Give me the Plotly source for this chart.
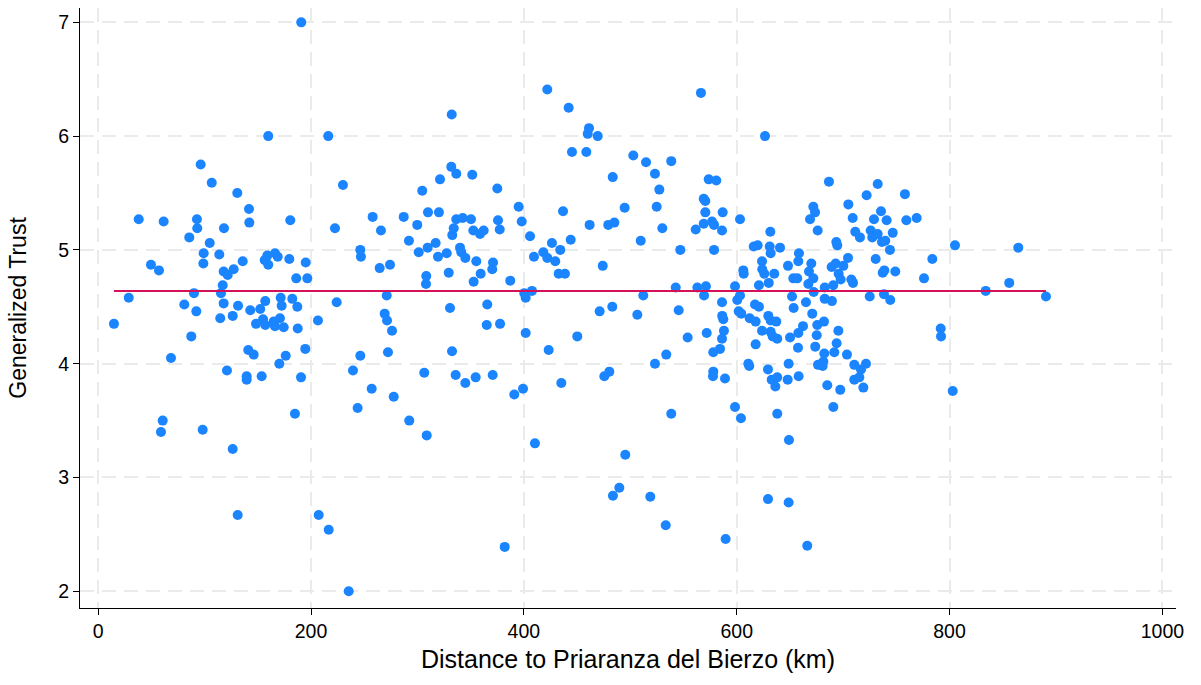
import plotly.graph_objects as go

# Distance to Priaranza del Bierzo (km)
distance_km = [
    190.8, 159.8, 216.2, 96.3, 106.7, 130.7, 141.7, 230.0,
    38.1, 61.5, 92.8, 93.1, 118.2, 142.0, 180.5, 222.5, 85.6, 104.8, 99.1, 98.8,
    113.8, 49.6, 57.1, 117.9, 121.7, 127.3, 135.8, 117.0, 115.4, 90.0, 28.7, 14.8,
    80.9, 92.2, 117.9, 131.4, 114.7, 126.4, 142.9, 152.3, 157.0, 156.5, 158.9, 166.1,
    168.7, 159.8, 179.6, 195.0, 186.1, 196.5, 171.5, 172.4, 182.4, 187.1, 224.1, 154.9,
    148.3, 157.0, 164.9, 170.8, 166.1, 174.3, 187.5, 206.5, 87.5, 68.4, 141.0, 146.1,
    170.2, 176.2, 194.6, 121.0, 139.5, 139.5, 153.6, 190.6, 184.9,
    60.6, 59.0, 98.2, 126.4, 131.1, 207.2, 216.6, 235.4,
    422.0, 442.1, 332.2, 445.2, 331.8, 336.5, 351.5, 321.2, 304.5, 375.0, 395.1, 436.8,
    309.9, 320.2,
    257.9, 287.1, 299.8, 265.7, 292.0, 301.2, 309.6, 317.1, 319.3, 327.5, 336.5, 342.5,
    350.3, 334.1, 332.7, 340.0, 341.2, 345.0, 352.5, 358.8, 362.2, 375.7, 377.3, 398.0,
    405.8, 246.3, 246.9, 264.5, 274.2, 308.3, 308.0, 329.4, 355.3, 359.4, 352.8, 371.0,
    370.3, 387.2, 409.5, 418.3, 422.0, 426.4, 429.5, 434.2, 444.0, 432.7, 438.6, 271.1,
    269.2, 271.4, 276.1, 330.6, 365.6, 365.1, 377.6, 400.4, 401.7, 407.6, 401.7, 450.2,
    246.3, 272.3, 332.5, 423.3, 239.4, 306.4, 335.9, 345.0, 354.7, 370.7, 257.0, 277.7,
    243.8, 391.0, 399.2, 435.2,
    292.3, 308.7, 410.4, 382.0,
    566.4, 626.6, 461.2, 460.0, 469.4, 458.7, 502.8, 514.8, 538.5, 523.2, 483.5, 527.3,
    573.7, 580.8, 569.0, 570.5, 494.7, 524.8, 570.5, 586.8, 603.1, 672.0, 673.6,
    461.8, 479.3, 485.0, 530.1, 561.5, 569.0, 576.8, 578.7, 586.2, 631.6, 668.9, 676.1,
    509.8, 547.0, 578.7, 474.1, 616.0, 619.7, 631.0, 631.9, 640.7, 658.5, 657.9, 623.8,
    624.0, 625.9, 635.3, 606.2, 606.6, 648.2, 670.1, 667.9, 653.2, 656.9, 672.0, 667.3,
    672.3, 630.1, 620.9, 598.4, 603.1, 600.5, 542.7, 563.0, 571.1, 569.3, 512.2, 652.0,
    653.5, 665.1, 671.0, 471.2, 483.1, 506.6, 545.5, 586.2, 586.4, 587.4, 601.9, 604.3,
    617.2, 620.9, 612.2, 617.8, 629.7, 631.9, 637.2, 662.3, 675.7, 553.9, 571.8, 588.0,
    586.2, 623.8, 631.9, 633.8, 638.1, 650.1, 657.9, 675.2, 617.8, 657.6, 673.8, 578.0,
    584.3, 533.8, 523.2, 610.9, 611.8, 648.8, 676.4, 475.6, 480.3, 578.0, 577.7, 589.0,
    629.4, 632.9, 638.1, 636.3, 647.9, 658.2, 598.4, 538.5, 638.1,
    604.0, 649.1, 495.3, 489.7, 483.7, 518.8, 533.3, 589.6, 629.4, 648.8, 666.3,
    686.7, 732.5, 722.1, 758.1, 704.9, 735.6,
    709.0, 729.0, 740.9, 759.4, 769.1, 711.4, 715.8, 725.9, 727.4, 732.5, 736.5, 739.6,
    746.6, 744.0, 693.6, 694.5, 704.6, 693.0, 689.2, 700.2, 695.8, 697.7, 690.7, 682.7,
    707.7, 709.3, 730.6, 737.2, 738.7, 749.0, 783.8, 776.0, 805.1, 864.6, 856.1, 834.0,
    890.6, 682.7, 689.5, 725.0, 738.4, 744.3, 682.0, 695.5, 693.9, 691.7, 682.3, 703.6,
    681.4, 680.8, 710.5, 721.5, 716.8, 710.5, 715.2, 719.0, 685.1, 697.3, 690.8, 791.7,
    792.0, 803.0,
]

# Generalized Trust
trust = [
    7.00, 6.00, 6.00, 5.75, 5.59, 5.50, 5.36, 5.57,
    5.27, 5.25, 5.27, 5.19, 5.19, 5.24, 5.26, 5.19, 5.11, 5.06, 4.97, 4.88,
    4.96, 4.87, 4.82, 4.81, 4.78, 4.83, 4.90, 4.69, 4.62, 4.62, 4.58, 4.35,
    4.52, 4.46, 4.53, 4.51, 4.40, 4.42, 4.47, 4.48, 4.55, 4.91, 4.95, 4.97,
    4.94, 4.87, 4.92, 4.89, 4.75, 4.75, 4.58, 4.51, 4.57, 4.50, 4.54, 4.39,
    4.35, 4.34, 4.37, 4.40, 4.33, 4.32, 4.31, 4.38, 4.24, 4.05, 4.12, 4.08,
    4.00, 4.07, 4.13, 3.94, 3.89, 3.86, 3.89, 3.88, 3.56,
    3.50, 3.40, 3.42, 3.25, 2.67, 2.67, 2.54, 2.00,
    6.41, 6.25, 6.19, 5.86, 5.73, 5.67, 5.66, 5.62, 5.52, 5.54, 5.38, 5.34,
    5.33, 5.33,
    5.29, 5.29, 5.22, 5.17, 5.08, 4.98, 5.02, 5.06, 4.94, 4.97, 5.27, 5.28,
    5.27, 5.19, 5.13, 5.02, 4.98, 4.93, 5.17, 5.14, 5.17, 5.26, 5.18, 5.25,
    5.12, 5.00, 4.94, 4.84, 4.87, 4.77, 4.70, 4.80, 4.90, 4.79, 4.72, 4.89,
    4.83, 4.73, 4.94, 4.98, 4.93, 5.06, 4.90, 5.00, 5.09, 4.79, 4.79, 4.60,
    4.44, 4.38, 4.29, 4.49, 4.52, 4.34, 4.35, 4.62, 4.58, 4.64, 4.27, 4.24,
    4.07, 4.10, 4.11, 4.12, 3.94, 3.92, 3.90, 3.83, 3.88, 3.90, 3.78, 3.71,
    3.61, 3.73, 3.78, 3.83,
    3.50, 3.37, 3.30, 2.39,
    6.38, 6.00, 6.07, 6.02, 6.00, 5.86, 5.83, 5.77, 5.78, 5.67, 5.64, 5.53,
    5.62, 5.61, 5.45, 5.43, 5.37, 5.38, 5.33, 5.33, 5.27, 5.38, 5.33,
    5.22, 5.22, 5.24, 5.19, 5.18, 5.23, 5.25, 5.22, 5.17, 5.16, 5.27, 5.17,
    5.08, 5.00, 5.00, 4.86, 5.03, 5.04, 5.03, 4.97, 5.02, 4.97, 4.90, 4.90,
    4.83, 4.79, 4.79, 4.82, 4.79, 4.86, 4.88, 4.81, 4.75, 4.75, 4.75, 4.70,
    4.63, 4.71, 4.69, 4.68, 4.60, 4.56, 4.67, 4.67, 4.68, 4.60, 4.60, 4.59,
    4.49, 4.54, 4.44, 4.46, 4.50, 4.43, 4.47, 4.54, 4.42, 4.39, 4.46, 4.44,
    4.52, 4.50, 4.40, 4.37, 4.42, 4.38, 4.37, 4.33, 4.34, 4.23, 4.27, 4.29,
    4.22, 4.29, 4.28, 4.24, 4.22, 4.23, 4.27, 4.25, 4.17, 4.14, 4.15, 4.10,
    4.13, 4.08, 4.00, 4.00, 3.98, 4.00, 3.99, 3.89, 3.93, 3.93, 3.89, 3.87,
    3.95, 3.86, 3.88, 3.80, 3.86, 3.89, 3.62, 3.56, 3.56,
    3.52, 3.33, 3.20, 2.91, 2.84, 2.83, 2.58, 2.46, 2.81, 2.78, 2.40,
    5.60, 5.58, 5.48, 5.49, 5.40, 5.34,
    5.28, 5.27, 5.26, 5.26, 5.28, 5.16, 5.11, 5.17, 5.11, 5.14, 5.07, 5.08,
    5.15, 5.00, 5.07, 5.04, 4.93, 4.88, 4.85, 4.86, 4.79, 4.74, 4.69, 4.67,
    4.74, 4.71, 4.92, 4.80, 4.82, 4.81, 4.92, 4.75, 5.04, 5.02, 4.71, 4.64,
    4.59, 4.57, 4.55, 4.59, 4.61, 4.56, 4.37, 4.29, 4.18, 4.10, 4.09, 4.08,
    4.02, 3.98, 3.99, 4.00, 3.95, 3.86, 3.88, 3.79, 3.81, 3.77, 3.62, 4.31,
    4.24, 3.76,
]

# Fitted (mean) line
fit_x = [min(distance_km), max(distance_km)]
fit_y = [4.64, 4.64]

x_ticks = [0, 200, 400, 600, 800, 1000]
y_ticks = [2, 3, 4, 5, 6, 7]

BLUE = "#1A85FF"
RED = "#D41159"
FONT = "Liberation Sans, Arial, Helvetica, sans-serif"

fig = go.Figure()
fig.add_trace(go.Scatter(
    x=distance_km, y=trust, mode="markers",
    marker=dict(color=BLUE, size=10, line=dict(width=0)),
    showlegend=False, hoverinfo="x+y",
))
fig.add_trace(go.Scatter(
    x=fit_x, y=fit_y, mode="lines",
    line=dict(color=RED, width=2),
    showlegend=False,
))

axis_common = dict(
    showline=True, linecolor="black", linewidth=1,
    ticks="outside", ticklen=6, tickwidth=1, tickcolor="black",
    showgrid=True, gridcolor="#EBEBEB", gridwidth=2, griddash="14px,8px",
    zeroline=False, mirror=False,
    tickfont=dict(family=FONT, size=19.5, color="black"),
)

fig.update_layout(
    width=1201, height=685,
    margin=dict(l=80, r=25, t=8, b=77, autoexpand=False),
    paper_bgcolor="white", plot_bgcolor="white",
    font=dict(family=FONT, color="black"),
    xaxis=dict(
        range=[-17.1, 1012.8], tickvals=x_ticks,
        ticktext=[str(v) for v in x_ticks],
        title=dict(text="Distance to Priaranza del Bierzo (km)",
                   font=dict(family=FONT, size=25, color="black"), standoff=9),
        **axis_common,
    ),
    yaxis=dict(
        range=[1.853, 7.126], tickvals=y_ticks,
        ticktext=[str(v) for v in y_ticks],
        title=dict(text="Generalized Trust",
                   font=dict(family=FONT, size=23, color="black"), standoff=25),
        **axis_common,
    ),
)

fig.write_html("out.html")
